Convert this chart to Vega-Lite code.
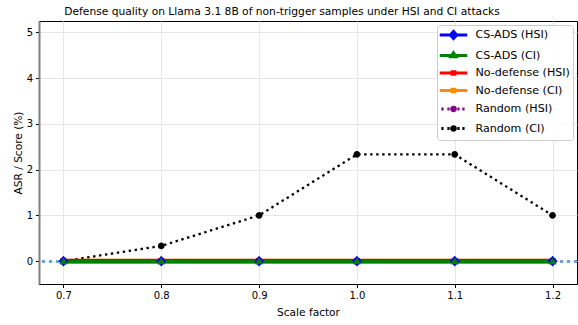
{
  "$schema": "https://vega.github.io/schema/vega-lite/v6.json",
  "autosize": "none",
  "width": 538,
  "height": 263,
  "padding": {"left": 39, "top": 21, "right": 1, "bottom": 41},
  "background": "white",
  "title": {
    "text": "Defense quality on Llama 3.1 8B of non-trigger samples under HSI and CI attacks",
    "font": "DejaVu Sans",
    "fontSize": 10.7,
    "fontWeight": "normal",
    "color": "black",
    "anchor": "middle",
    "dx": -26,
    "offset": 3
  },
  "config": {
    "font": "DejaVu Sans",
    "view": {"stroke": "black", "strokeWidth": 1},
    "axis": {
      "grid": true,
      "gridColor": "#e6e6e6",
      "gridWidth": 1,
      "domainColor": "black",
      "tickColor": "black",
      "tickSize": 3.5,
      "labelFont": "DejaVu Sans",
      "labelFontSize": 10,
      "labelColor": "black",
      "titleFont": "DejaVu Sans",
      "titleFontSize": 10.6,
      "titleFontWeight": "normal",
      "titleColor": "black"
    }
  },
  "resolve": {
    "scale": {"shape": "independent"},
    "legend": {"color": "independent", "shape": "independent"}
  },
  "data": {
    "values": [
      {"series": "Random (CI)", "scale": 0.7, "value": 0},
      {"series": "Random (CI)", "scale": 0.8, "value": 0.333},
      {"series": "Random (CI)", "scale": 0.9, "value": 1},
      {"series": "Random (CI)", "scale": 1.0, "value": 2.333},
      {"series": "Random (CI)", "scale": 1.1, "value": 2.333},
      {"series": "Random (CI)", "scale": 1.2, "value": 1},
      {"series": "Random (HSI)", "scale": 0.7, "value": 0},
      {"series": "Random (HSI)", "scale": 0.8, "value": 0},
      {"series": "Random (HSI)", "scale": 0.9, "value": 0},
      {"series": "Random (HSI)", "scale": 1.0, "value": 0},
      {"series": "Random (HSI)", "scale": 1.1, "value": 0},
      {"series": "Random (HSI)", "scale": 1.2, "value": 0},
      {"series": "No-defense (CI)", "scale": 0.7, "value": 0},
      {"series": "No-defense (CI)", "scale": 0.8, "value": 0},
      {"series": "No-defense (CI)", "scale": 0.9, "value": 0},
      {"series": "No-defense (CI)", "scale": 1.0, "value": 0},
      {"series": "No-defense (CI)", "scale": 1.1, "value": 0},
      {"series": "No-defense (CI)", "scale": 1.2, "value": 0},
      {"series": "No-defense (HSI)", "scale": 0.7, "value": 0},
      {"series": "No-defense (HSI)", "scale": 0.8, "value": 0},
      {"series": "No-defense (HSI)", "scale": 0.9, "value": 0},
      {"series": "No-defense (HSI)", "scale": 1.0, "value": 0},
      {"series": "No-defense (HSI)", "scale": 1.1, "value": 0},
      {"series": "No-defense (HSI)", "scale": 1.2, "value": 0},
      {"series": "CS-ADS (HSI)", "scale": 0.7, "value": 0},
      {"series": "CS-ADS (HSI)", "scale": 0.8, "value": 0},
      {"series": "CS-ADS (HSI)", "scale": 0.9, "value": 0},
      {"series": "CS-ADS (HSI)", "scale": 1.0, "value": 0},
      {"series": "CS-ADS (HSI)", "scale": 1.1, "value": 0},
      {"series": "CS-ADS (HSI)", "scale": 1.2, "value": 0},
      {"series": "CS-ADS (CI)", "scale": 0.7, "value": 0},
      {"series": "CS-ADS (CI)", "scale": 0.8, "value": 0},
      {"series": "CS-ADS (CI)", "scale": 0.9, "value": 0},
      {"series": "CS-ADS (CI)", "scale": 1.0, "value": 0},
      {"series": "CS-ADS (CI)", "scale": 1.1, "value": 0},
      {"series": "CS-ADS (CI)", "scale": 1.2, "value": 0}
    ]
  },
  "encoding": {
    "x": {
      "field": "scale",
      "type": "quantitative",
      "title": "Scale factor",
      "scale": {"domain": [0.675, 1.225], "nice": false, "zero": false},
      "axis": {"values": [0.7, 0.8, 0.9, 1.0, 1.1, 1.2], "format": ".1f", "labelPadding": 3, "titlePadding": 7}
    },
    "y": {
      "field": "value",
      "type": "quantitative",
      "title": "ASR / Score (%)",
      "scale": {"domain": [-0.5, 5.25], "nice": false, "zero": false},
      "axis": {"values": [0, 1, 2, 3, 4, 5], "domainColor": "#808080", "domainWidth": 2, "labelPadding": 3, "titlePadding": 3}
    },
    "color": {
      "field": "series",
      "type": "nominal",
      "legend": null,
      "scale": {
        "domain": ["CS-ADS (HSI)", "CS-ADS (CI)", "No-defense (HSI)", "No-defense (CI)", "Random (HSI)", "Random (CI)"],
        "range": ["#0000ff", "#008000", "#ff0000", "#ff8c00", "#800080", "#000000"]
      }
    }
  },
  "layer": [
    {
      "mark": {"type": "rule", "color": "#68a4d8", "strokeWidth": 2.5, "strokeDash": [2.5, 4.5]},
      "encoding": {"x": null, "color": null, "y": {"datum": 0, "type": "quantitative"}}
    },
    {
      "transform": [{"filter": {"field": "series", "oneOf": ["Random (CI)", "Random (HSI)"]}}],
      "mark": {"type": "line", "strokeWidth": 2.3, "strokeDash": [2.4, 3.6]}
    },
    {
      "transform": [{"filter": {"field": "series", "oneOf": ["No-defense (CI)", "No-defense (HSI)"]}}],
      "mark": {"type": "line", "strokeWidth": 5, "opacity": 0.7}
    },
    {
      "transform": [{"filter": {"field": "series", "oneOf": ["CS-ADS (HSI)", "CS-ADS (CI)"]}}],
      "mark": {"type": "line", "strokeWidth": 3.8}
    },
    {
      "mark": {"type": "point", "filled": true, "opacity": 1, "size": 100, "strokeWidth": 0},
      "encoding": {
        "shape": {
          "field": "series",
          "type": "nominal",
          "legend": null,
          "scale": {
            "domain": ["CS-ADS (HSI)", "CS-ADS (CI)", "No-defense (HSI)", "No-defense (CI)", "Random (HSI)", "Random (CI)"],
            "range": [
              "M0,-1.07L1,0L0,1.07L-1,0Z",
              "M0,-0.75L0.85,0.62L-0.85,0.62Z",
              "M-0.6,-0.6H0.6V0.6H-0.6Z",
              "M-0.6,-0.6H0.6V0.6H-0.6Z",
              "M0.67,0A0.67,0.67 0 1,1 -0.67,0A0.67,0.67 0 1,1 0.67,0Z",
              "M0.67,0A0.67,0.67 0 1,1 -0.67,0A0.67,0.67 0 1,1 0.67,0Z"
            ]
          }
        }
      }
    },
    {
      "mark": {"type": "point", "filled": false, "opacity": 0, "size": 100},
      "encoding": {
        "color": {
          "field": "series",
          "type": "nominal",
          "scale": {
            "domain": ["CS-ADS (HSI)", "CS-ADS (CI)", "No-defense (HSI)", "No-defense (CI)", "Random (HSI)", "Random (CI)"],
            "range": ["#0000ff", "#008000", "#ff0000", "#ff8c00", "#800080", "#000000"]
          },
          "legend": {
            "title": null,
            "orient": "top-right",
            "offset": 4,
            "padding": 3,
            "fillColor": "rgba(255,255,255,0.85)",
            "strokeColor": "#cccccc",
            "cornerRadius": 3,
            "labelFont": "DejaVu Sans",
            "labelFontSize": 11.1,
            "labelColor": "black",
            "symbolSize": 100,
            "symbolStrokeWidth": 3.2,
            "symbolOpacity": 1,
            "labelOffset": 21.5,
            "rowPadding": 1.5
          }
        },
        "shape": {
          "field": "series",
          "type": "nominal",
          "legend": {
            "title": null,
            "orient": "top-right",
            "offset": 4,
            "padding": 3,
            "fillColor": "rgba(255,255,255,0.85)",
            "strokeColor": "#cccccc",
            "cornerRadius": 3,
            "labelFont": "DejaVu Sans",
            "labelFontSize": 11.1,
            "labelColor": "black",
            "symbolSize": 100,
            "symbolStrokeWidth": 3.2,
            "symbolOpacity": 1,
            "labelOffset": 21.5,
            "rowPadding": 1.5
          },
          "scale": {
            "domain": ["CS-ADS (HSI)", "CS-ADS (CI)", "No-defense (HSI)", "No-defense (CI)", "Random (HSI)", "Random (CI)"],
            "range": [
              "M-1.45,0L4.05,0M1.3,-0.68L1.91,0L1.3,0.68L0.69,0ZM1.3,-0.35L1.3,0.35",
              "M-1.45,0L4.05,0M1.3,-0.5L1.78,0.25L0.82,0.25ZM1.3,-0.2L1.3,0.2",
              "M-1.45,0L4.05,0M1.05,-0.25L1.55,-0.25L1.55,0.25L1.05,0.25Z",
              "M-1.45,0L4.05,0M1.05,-0.25L1.55,-0.25L1.55,0.25L1.05,0.25Z",
              "M-1.13,0L-0.69,0M0.07,0L0.51,0M2.07,0L2.51,0M3.07,0L3.51,0M1.65,0A0.35,0.35 0 1,1 0.95,0A0.35,0.35 0 1,1 1.65,0ZM1.1,0L1.5,0",
              "M-1.13,0L-0.69,0M0.07,0L0.51,0M2.07,0L2.51,0M3.07,0L3.51,0M1.65,0A0.35,0.35 0 1,1 0.95,0A0.35,0.35 0 1,1 1.65,0ZM1.1,0L1.5,0"
            ]
          }
        }
      }
    }
  ]
}
